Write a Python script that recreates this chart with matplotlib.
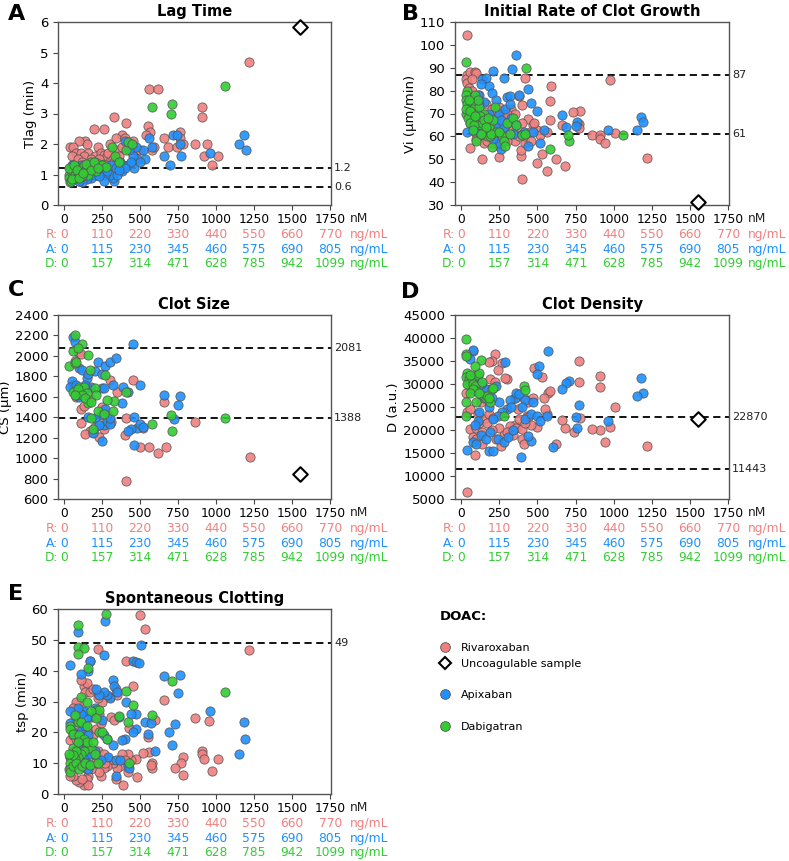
import numpy as np
import matplotlib
matplotlib.use("Agg")
import matplotlib.pyplot as plt
from matplotlib.lines import Line2D

# ---------------- tick labels ----------------
nm_ticks = [0, 250, 500, 750, 1000, 1250, 1500, 1750]
riva_ng = ['0', '110', '220', '330', '440', '550', '660', '770']
apix_ng = ['0', '115', '230', '345', '460', '575', '690', '805']
dabi_ng = ['0', '157', '314', '471', '628', '785', '942', '1099']

# ---------------- Panel A: Lag time (nM, min) ----------------
lag_R = [(1215, 4.7), (560, 3.8), (615, 3.8), (330, 2.9), (910, 3.2), (910, 2.9), (410, 2.7), (195, 2.5),
         (260, 2.5), (550, 2.6), (565, 2.4), (380, 2.3), (760, 2.4), (765, 2.2), (660, 2.2), (940, 2.0),
         (860, 2.0), (780, 2.0), (580, 1.8), (590, 1.9), (680, 1.9), (740, 1.9), (920, 1.6), (1010, 1.6),
         (975, 1.3), (540, 2.3), (455, 2.1), (140, 2.1), (150, 2.0), (100, 2.1), (220, 1.9), (40, 1.9),
         (60, 1.9), (300, 2.0), (340, 2.2), (400, 2.2), (420, 2.0), (80, 1.7), (110, 1.7), (160, 1.7),
         (200, 1.6), (240, 1.7), (260, 1.65), (280, 1.6), (50, 1.6), (130, 1.6), (180, 1.5), (230, 1.5),
         (310, 1.5), (350, 1.8), (380, 1.9), (470, 1.8), (500, 1.8), (90, 1.5), (120, 1.4), (160, 1.3),
         (200, 1.4), (250, 1.3), (290, 1.7), (320, 1.5), (440, 2.0), (360, 1.6), (60, 1.3), (100, 1.2),
         (140, 1.0), (190, 1.1), (240, 1.1), (80, 0.9), (100, 0.8), (210, 1.0), (270, 1.3), (290, 1.2),
         (230, 1.25), (330, 1.4)]
lag_A = [(1180, 2.3), (1150, 2.0), (1195, 1.8), (715, 2.3), (745, 2.3), (760, 2.0), (770, 1.6), (960, 1.7),
         (660, 1.6), (695, 1.3), (580, 1.9), (560, 2.2), (520, 1.8), (530, 1.5), (480, 1.5), (450, 1.6),
         (400, 2.1), (390, 1.3), (380, 1.1), (350, 1.3), (330, 0.8), (320, 0.9), (300, 1.0), (270, 1.0),
         (260, 0.8), (240, 1.1), (200, 1.0), (180, 0.9), (150, 0.85), (120, 0.75), (100, 0.8), (70, 1.1),
         (40, 1.2), (50, 1.3), (90, 1.0), (160, 1.2), (210, 1.2), (280, 1.1), (350, 1.0), (420, 1.3),
         (460, 1.2), (500, 1.4), (310, 1.3), (370, 1.4), (440, 1.4), (230, 0.95), (130, 1.1), (60, 0.9),
         (110, 1.3), (340, 1.2), (400, 1.2), (470, 1.9), (430, 1.8), (360, 1.15)]
lag_D = [(1060, 3.9), (580, 3.2), (710, 3.3), (705, 3.0), (315, 1.9), (410, 1.8), (420, 2.05), (445, 2.0),
         (335, 1.6), (360, 1.4), (30, 1.0), (35, 0.9), (40, 0.75), (45, 0.8), (50, 1.05), (60, 1.1),
         (70, 1.0), (80, 0.9), (90, 1.2), (100, 1.0), (110, 1.1), (120, 1.25), (130, 1.3), (140, 1.1),
         (150, 1.2), (160, 1.0), (170, 1.3), (180, 1.4), (190, 1.2), (200, 1.3), (210, 1.1), (230, 1.35),
         (250, 1.3), (275, 1.25), (30, 1.2), (65, 1.3), (85, 1.15), (115, 0.95), (145, 1.35), (175, 1.15),
         (195, 1.4), (220, 1.2), (55, 0.85), (95, 0.9), (125, 1.05)]
lag_uncoag = [(1550, 5.85)]

# ---------------- Panel B: Initial rate (nM, um/min) ----------------
vi_R = [(40, 104.5), (975, 84.8), (590, 82), (580, 75.5), (420, 85.5), (780, 71.3), (730, 70.8), (770, 65.5),
        (770, 63.5), (660, 65), (580, 67.3), (860, 60.5), (910, 60.5), (910, 59), (945, 57), (1010, 61.5),
        (1215, 50.5), (680, 47), (560, 45), (620, 50), (500, 48.5), (530, 52.5), (400, 41.5), (390, 51.5),
        (390, 54), (250, 51), (140, 50), (60, 54.8), (40, 87), (30, 85), (40, 83.5), (60, 88), (90, 88),
        (100, 87.5), (70, 85), (50, 81), (70, 80), (120, 78), (160, 74), (200, 72), (250, 73), (280, 70),
        (300, 67), (330, 72), (350, 70), (380, 77.5), (400, 73.5), (440, 67.5), (470, 65), (500, 63),
        (520, 60.5), (560, 62), (450, 62), (420, 57), (350, 58), (300, 58), (250, 56), (200, 57), (150, 57),
        (100, 59), (90, 62), (60, 66), (40, 70), (110, 70), (140, 68), (180, 66), (220, 64), (260, 64),
        (300, 63), (340, 63), (380, 60), (420, 60), (460, 58), (150, 63), (230, 60), (280, 60), (100, 65),
        (130, 61), (170, 58), (300, 70), (250, 68), (480, 66), (400, 66), (220, 70), (270, 66)]
vi_A = [(360, 95.5), (335, 89.5), (210, 88.5), (280, 85.5), (140, 85), (160, 85.5), (180, 82), (200, 79),
        (130, 83), (230, 76), (300, 77), (320, 77.5), (380, 78), (440, 80.5), (460, 74.5), (500, 71),
        (660, 69.5), (690, 64), (760, 66.5), (750, 64.5), (960, 63), (1150, 63), (1180, 68.5), (1190, 66.5),
        (540, 63), (520, 57), (440, 56), (400, 61), (340, 61), (260, 54.5), (250, 57), (210, 59), (160, 61),
        (120, 62), (80, 63), (40, 62), (200, 68), (250, 70), (290, 72), (320, 74), (180, 70), (150, 75),
        (110, 78), (120, 74), (240, 65), (280, 64), (360, 65), (100, 67), (60, 68), (140, 70), (260, 67),
        (330, 68), (410, 62), (470, 62)]
vi_D = [(30, 92.5), (425, 90), (40, 80), (35, 78), (30, 76), (40, 74), (50, 72), (30, 70), (45, 68), (60, 66),
        (70, 75), (80, 72), (90, 78), (100, 70), (110, 68), (120, 73), (130, 65), (140, 66), (150, 70),
        (160, 62), (170, 60), (180, 64), (190, 60), (200, 55.5), (210, 67), (220, 73), (230, 62), (270, 60),
        (280, 58), (290, 56), (300, 66), (320, 61), (340, 68), (360, 65), (400, 60.5), (420, 61), (580, 54.5),
        (710, 58), (700, 60.5), (1060, 60.5), (30, 72), (60, 71), (85, 65), (100, 58), (75, 63), (125, 69),
        (150, 67), (175, 68), (195, 61), (110, 76), (160, 64), (250, 62), (50, 76), (90, 69), (130, 61)]
vi_uncoag = [(1550, 31.5)]

# ---------------- Panel C: Clot size (nM, um) ----------------
cs_R = [(1220, 1010), (860, 1350), (410, 780), (400, 1230), (410, 1390), (450, 1760), (520, 1290), (500, 1110),
        (560, 1110), (620, 1050), (670, 1110), (660, 1550), (350, 1650), (300, 1760), (310, 1350), (260, 1280),
        (230, 1210), (200, 1300), (170, 1270), (140, 1240), (110, 1340), (110, 1480), (130, 1510), (60, 1720),
        (80, 1600), (120, 1640), (160, 1690), (170, 1580), (90, 2040), (110, 2020), (70, 1950), (250, 1500),
        (280, 1430), (190, 1260)]
cs_A = [(450, 2120), (60, 2180), (70, 2140), (50, 1750), (40, 1700), (80, 1720), (100, 1880), (120, 1860),
        (150, 1780), (160, 1820), (180, 1700), (200, 1850), (220, 1940), (250, 1820), (270, 1900), (300, 1940),
        (340, 1980), (320, 1720), (380, 1540), (390, 1700), (420, 1650), (500, 1720), (460, 1400), (480, 1290),
        (440, 1280), (460, 1130), (420, 1270), (500, 1330), (520, 1300), (660, 1620), (760, 1610), (750, 1520),
        (720, 1380), (250, 1170), (260, 1320), (280, 1360), (300, 1330), (240, 1420), (200, 1390), (230, 1320),
        (270, 1480), (140, 1720), (100, 1600), (190, 1250), (160, 1400), (300, 1390), (250, 1690), (260, 1690),
        (80, 1620)]
cs_D = [(70, 2200), (60, 2050), (120, 2120), (160, 2010), (90, 2080), (30, 1900), (70, 1930), (80, 1940),
        (170, 1860), (270, 1810), (410, 1650), (330, 1560), (320, 1460), (220, 1460), (260, 1430), (280, 1570),
        (200, 1690), (210, 1620), (160, 1540), (180, 1390), (190, 1280), (580, 1330), (700, 1420), (710, 1270),
        (1060, 1390), (100, 1700), (110, 1660), (130, 1700), (150, 1640), (60, 1650), (90, 1680), (120, 1620),
        (140, 1590), (180, 1550), (70, 1620)]
cs_uncoag = [(1550, 840)]

# ---------------- Panel D: Clot density (nM, a.u.) ----------------
den_R = [(40, 6500), (1220, 16500), (1010, 25000), (940, 17300), (910, 20000), (860, 20200), (975, 20600),
         (910, 31800), (910, 29300), (770, 35000), (770, 30500), (780, 22700), (740, 19600), (680, 20500),
         (660, 22200), (620, 17000), (570, 28000), (580, 28500), (560, 23500), (550, 24500), (540, 27000),
         (530, 31500), (500, 20700), (480, 33500), (470, 27000), (430, 23000), (400, 18000), (410, 16900),
         (370, 24500), (350, 21000), (330, 20000), (300, 31000), (290, 31300), (270, 34500), (240, 33000),
         (220, 36500), (200, 35000), (180, 34800), (80, 37200), (40, 36000), (50, 30000), (30, 28000),
         (40, 24000), (60, 20200), (90, 14500), (80, 18500), (100, 20500), (120, 21500), (150, 22500),
         (180, 23500), (210, 22700), (250, 20500), (280, 19000), (320, 20800), (360, 20500), (400, 20200),
         (440, 22800), (460, 21000), (130, 26000), (160, 29000), (190, 31000), (220, 30500), (100, 32000),
         (70, 29000), (60, 24500), (110, 23500), (140, 19500), (170, 21500), (200, 20000), (230, 18000),
         (260, 16500), (300, 19500), (340, 19000), (380, 22500), (420, 21500), (350, 27000), (410, 27000),
         (440, 26000), (100, 18000), (140, 17000)]
den_A = [(570, 37200), (80, 37400), (290, 34800), (510, 34000), (500, 32200), (710, 30700), (690, 30200),
         (660, 29000), (1180, 31200), (1190, 28000), (1150, 27500), (770, 25500), (760, 20500), (750, 22800),
         (960, 22000), (600, 16200), (390, 14100), (180, 15500), (210, 15500), (40, 15600), (460, 17700),
         (440, 18800), (350, 27000), (360, 28000), (380, 27800), (320, 26500), (300, 24500), (330, 25000),
         (250, 26000), (270, 24000), (240, 23000), (210, 22500), (180, 25000), (200, 27000), (150, 27000),
         (120, 24000), (110, 22000), (90, 21000), (80, 17500), (100, 17000), (130, 19000), (160, 18000),
         (190, 19500), (240, 18000), (280, 17500), (310, 18500), (340, 20000), (420, 22500), (460, 23500),
         (500, 23000), (520, 22000), (420, 26500), (470, 26000), (400, 25000), (160, 29000), (130, 30000),
         (100, 31000), (60, 35500), (230, 29500), (560, 23000)]
den_D = [(30, 39700), (30, 36500), (30, 36000), (40, 32500), (30, 31500), (50, 31000), (60, 30000), (40, 30000),
         (70, 31000), (80, 30000), (90, 29500), (100, 28500), (110, 32000), (120, 32500), (130, 35200),
         (90, 34000), (80, 29000), (60, 28000), (140, 30500), (150, 27500), (160, 27000), (170, 27500),
         (200, 29000), (210, 29200), (190, 26000), (100, 26000), (30, 26000), (30, 23000), (410, 29500),
         (420, 28800), (280, 23000), (60, 32000), (120, 28000), (180, 27000)]
den_uncoag = [(1550, 22500)]

# ---------------- Panel E: Spontaneous clotting (nM, min) ----------------
tsp_R = [(500, 58), (530, 53.5), (220, 47), (1215, 46.8), (410, 43), (450, 35), (340, 34), (300, 31.5),
         (310, 25), (330, 24), (430, 21.5), (600, 24), (660, 30.5), (860, 24.7), (950, 23.6), (910, 14),
         (910, 13), (920, 11.5), (1010, 11.3), (975, 7.6), (780, 12), (770, 10), (780, 6.3), (730, 8.5),
         (560, 13.5), (580, 10), (580, 8.5), (570, 9.5), (550, 18.5), (520, 13.3), (480, 5.5), (470, 11.5),
         (440, 11), (420, 13), (420, 7), (390, 2.8), (370, 9), (350, 8.5), (340, 5), (320, 10), (300, 11),
         (280, 9), (260, 8.5), (240, 6), (230, 7), (220, 14), (210, 12), (200, 10), (180, 8), (160, 6),
         (150, 5), (130, 3), (100, 4), (80, 4.5), (60, 6), (40, 6), (50, 9), (70, 11), (90, 13), (110, 12),
         (130, 10), (150, 8), (170, 14), (190, 19), (210, 21), (230, 26), (250, 30), (130, 35), (150, 36),
         (110, 37), (170, 43), (100, 30), (80, 30), (60, 28), (40, 17.5), (60, 19), (90, 22), (120, 27),
         (140, 33), (170, 33), (190, 34), (220, 31), (240, 23), (260, 13), (40, 12), (60, 14), (80, 18),
         (100, 18), (120, 16), (150, 20), (270, 10), (350, 32), (380, 13), (400, 11), (160, 3), (120, 5),
         (200, 25), (30, 8)]
tsp_A = [(90, 52.5), (270, 56), (260, 45), (505, 48.3), (40, 42), (170, 43), (160, 40), (110, 38.8), (450, 43),
         (470, 42.7), (490, 42.5), (660, 38.3), (760, 38.5), (750, 32.8), (960, 27), (1180, 23.3),
         (1190, 18), (1150, 13), (730, 22.8), (690, 20.2), (710, 16), (600, 14), (550, 19.5), (530, 23.5),
         (570, 23), (470, 21), (470, 26), (450, 20), (440, 26), (410, 30), (400, 18), (380, 17.5), (360, 25),
         (320, 37), (330, 35), (350, 33), (300, 31), (280, 32), (260, 33), (230, 32), (210, 34), (200, 28),
         (180, 25), (150, 25), (130, 27), (110, 26), (90, 28), (70, 25), (40, 27), (40, 23), (60, 20),
         (80, 19), (100, 19), (120, 21), (140, 22), (160, 19), (250, 24), (280, 18), (290, 12), (320, 16),
         (340, 11), (370, 11), (420, 9), (240, 11), (200, 14), (160, 8), (140, 12), (110, 16), (90, 15),
         (150, 10), (60, 13), (340, 6), (430, 8.5), (180, 13), (260, 19)]
tsp_D = [(90, 54.8), (275, 58.5), (90, 47.8), (130, 47.3), (90, 45.5), (160, 41), (710, 36.8), (1060, 33.2),
         (410, 33.4), (450, 29), (580, 25.5), (360, 25.2), (420, 23.2), (210, 27.2), (230, 27.2), (180, 27),
         (210, 24.7), (110, 31.5), (150, 30), (90, 23.5), (110, 23.2), (150, 22), (40, 22), (40, 21), (60, 19.5),
         (70, 25.5), (230, 20), (250, 20), (280, 18), (100, 19), (130, 18), (160, 16), (180, 15), (200, 13),
         (130, 14), (110, 13), (90, 12), (70, 11.5), (50, 11), (40, 12), (40, 10), (40, 8), (40, 7), (60, 9),
         (80, 10), (100, 8), (120, 9), (140, 10), (170, 9.5), (220, 10), (430, 10), (60, 15), (80, 14),
         (150, 16.8), (190, 17), (60, 12.5), (30, 13), (90, 17)]

# ---------------- styling ----------------
C_R = '#f08080'
C_A = '#1e90ff'
C_D = '#32cd32'
TXT_R = '#f08080'
TXT_A = '#1e90ff'
TXT_D = '#32cd32'
EDGE = '#555555'
MS = 44

plt.rcParams['font.family'] = ['DejaVu Sans']

fig = plt.figure(figsize=(7.89, 8.61), dpi=100)
W, H = 789.0, 861.0


def ax_rect(l, t, r, b):
    return [l / W, 1 - b / H, (r - l) / W, (b - t) / H]


def draw_panel(ax, R, A, D, unc, ylim, yticks, hlines, title, ylabel, ytick_fs=9.5):
    for pts, col in ((R, C_R), (A, C_A), (D, C_D)):
        arr = np.array(pts, dtype=float)
        ax.scatter(arr[:, 0], arr[:, 1], s=MS, c=col, edgecolors=EDGE, linewidths=0.6,
                   alpha=0.9, zorder=3)
    if unc:
        arr = np.array(unc, dtype=float)
        ax.scatter(arr[:, 0], arr[:, 1], s=55, marker='D', facecolors='white',
                   edgecolors='black', linewidths=1.5, zorder=4, clip_on=False)
    for val, lab in hlines:
        ax.axhline(val, color='black', linestyle='--', linewidth=1.3, dashes=(4, 2.5), zorder=2)
        ax.text(1.012, val, lab, transform=ax.get_yaxis_transform(), ha='left', va='center',
                fontsize=8, color='#222222')
    ax.set_xlim(-40, 1755)
    ax.set_ylim(*ylim)
    ax.set_yticks(yticks)
    ax.tick_params(axis='y', labelsize=ytick_fs, length=3.5, color='#444444')
    ax.set_xticks(nm_ticks)
    ax.set_xticklabels([str(t) for t in nm_ticks])
    ax.tick_params(axis='x', labelsize=8.8, length=3.5, pad=2, color='#444444')
    for s in ax.spines.values():
        s.set_color('#555555')
        s.set_linewidth(1.0)
    ax.set_title(title, fontsize=10.5, fontweight='bold', pad=4)
    ax.set_ylabel(ylabel, fontsize=9.5, labelpad=2)
    tr = ax.get_xaxis_transform()
    ax.annotate('nM', xy=(1750, 0), xycoords=tr, xytext=(14, -9.5), textcoords='offset points',
                ha='left', va='center', fontsize=8.8, color='#222222')
    rows = [('R:', riva_ng, TXT_R), ('A:', apix_ng, TXT_A), ('D:', dabi_ng, TXT_D)]
    for i, (pre, labs, col) in enumerate(rows):
        off = -21.5 - 10.3 * i
        ax.annotate(pre, xy=(0, 0), xycoords=tr, xytext=(-4.5, off), textcoords='offset points',
                    ha='right', va='center', fontsize=8.8, color=col)
        for t, l in zip(nm_ticks, labs):
            ax.annotate(l, xy=(t, 0), xycoords=tr, xytext=(0, off), textcoords='offset points',
                        ha='center', va='center', fontsize=8.8, color=col)
        ax.annotate('ng/mL', xy=(1750, 0), xycoords=tr, xytext=(14, off), textcoords='offset points',
                    ha='left', va='center', fontsize=8.8, color=col)


axA = fig.add_axes(ax_rect(58, 22, 331, 205))
draw_panel(axA, lag_R, lag_A, lag_D, lag_uncoag, (0, 6), range(0, 7),
           [(1.2, '1.2'), (0.6, '0.6')], 'Lag Time', 'Tlag (min)')

axB = fig.add_axes(ax_rect(455, 22, 729, 205))
draw_panel(axB, vi_R, vi_A, vi_D, vi_uncoag, (30, 110), range(30, 111, 10),
           [(87, '87'), (61, '61')], 'Initial Rate of Clot Growth', 'Vi (μm/min)')

axC = fig.add_axes(ax_rect(58, 315, 331, 499))
draw_panel(axC, cs_R, cs_A, cs_D, cs_uncoag, (600, 2400), range(600, 2401, 200),
           [(2081, '2081'), (1388, '1388')], 'Clot Size', 'CS (μm)')

axD = fig.add_axes(ax_rect(455, 315, 729, 499))
draw_panel(axD, den_R, den_A, den_D, den_uncoag, (5000, 45000), range(5000, 45001, 5000),
           [(22870, '22870'), (11443, '11443')], 'Clot Density', 'D (a.u.)')

axE = fig.add_axes(ax_rect(58, 609, 331, 794))
draw_panel(axE, tsp_R, tsp_A, tsp_D, None, (0, 60), range(0, 61, 10),
           [(49, '49')], 'Spontaneous Clotting', 'tsp (min)')

# panel letters
for lab, x, y in (('A', 17, 14), ('B', 410, 14), ('C', 16, 290), ('D', 410, 292), ('E', 16, 594)):
    fig.text(x / W, 1 - y / H, lab, fontsize=16, fontweight='bold', ha='center', va='center')

# legend
fig.text(440 / W, 1 - 617 / H, 'DOAC:', fontsize=9.5, fontweight='bold', ha='left', va='center')
blank = Line2D([], [], linestyle='none', marker=None)
handles = [
    Line2D([], [], linestyle='none', marker='o', markersize=7, markerfacecolor=C_R,
           markeredgecolor=EDGE, markeredgewidth=0.6),
    Line2D([], [], linestyle='none', marker='D', markersize=6.5, markerfacecolor='white',
           markeredgecolor='black', markeredgewidth=1.5),
    blank,
    Line2D([], [], linestyle='none', marker='o', markersize=7, markerfacecolor=C_A,
           markeredgecolor=EDGE, markeredgewidth=0.6),
    blank,
    Line2D([], [], linestyle='none', marker='o', markersize=7, markerfacecolor=C_D,
           markeredgecolor=EDGE, markeredgewidth=0.6),
]
labels = ['Rivaroxaban', 'Uncoagulable sample', ' ', 'Apixaban', ' ', 'Dabigatran']
fig.legend(handles, labels, loc='upper left', bbox_to_anchor=(438 / W, 1 - 643 / H),
           frameon=False, fontsize=8, handlelength=1.2, handletextpad=0.9,
           labelspacing=0.52, borderpad=0, borderaxespad=0)

fig.savefig('out.png', dpi=100)
